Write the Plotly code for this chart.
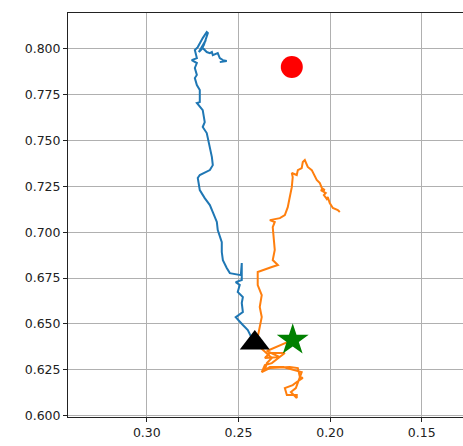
import plotly.graph_objects as go

# Blue trajectory
blue_x = [0.2422, 0.2449, 0.2476, 0.2515, 0.2476, 0.2482, 0.2476, 0.2504, 0.2493, 0.2515,
          0.2482, 0.2482, 0.2487, 0.2547, 0.2564, 0.2585, 0.2591, 0.2591, 0.2613, 0.2618,
          0.2640, 0.2656, 0.2684, 0.2711, 0.2722, 0.2711, 0.2656, 0.2640, 0.2645, 0.2656,
          0.2673, 0.2695, 0.2684, 0.2695, 0.2722, 0.2727, 0.2711, 0.2711, 0.2727, 0.2738,
          0.2727, 0.2738, 0.2727, 0.2755, 0.2727, 0.2738, 0.2722, 0.2711, 0.2695, 0.2673,
          0.2667, 0.2689, 0.2705, 0.2678, 0.2716, 0.2695, 0.2673, 0.2656, 0.2645, 0.2640,
          0.2613, 0.2602, 0.2585, 0.2564, 0.2602]
blue_y = [0.6412, 0.6466, 0.6494, 0.6537, 0.6565, 0.6614, 0.6646, 0.6674, 0.6712, 0.6728,
          0.6739, 0.6832, 0.6766, 0.6777, 0.6805, 0.6848, 0.6892, 0.6946, 0.7012, 0.7056,
          0.7110, 0.7148, 0.7186, 0.7230, 0.7296, 0.7312, 0.7339, 0.7366, 0.7410, 0.7465,
          0.7541, 0.7574, 0.7601, 0.7666, 0.7694, 0.7705, 0.7710, 0.7776, 0.7803, 0.7841,
          0.7858, 0.7896, 0.7923, 0.7939, 0.7950, 0.7994, 0.8010, 0.8032, 0.8059, 0.8092,
          0.8087, 0.8021, 0.7994, 0.8048, 0.7983, 0.8005, 0.7983, 0.7977, 0.7983, 0.7966,
          0.7977, 0.7950, 0.7939, 0.7934, 0.7928]

# Orange trajectory
orange_x = [0.2220, 0.2345, 0.2274, 0.2356, 0.2329, 0.2247, 0.2318, 0.2356, 0.2373, 0.2329,
            0.2220, 0.2176, 0.2165, 0.2149, 0.2182, 0.2204, 0.2247, 0.2236, 0.2182, 0.2182,
            0.2214, 0.2187, 0.2155, 0.2258, 0.2329, 0.2356, 0.2345, 0.2318, 0.2384, 0.2395,
            0.2384, 0.2373, 0.2384, 0.2373, 0.2395, 0.2395, 0.2318, 0.2285, 0.2313, 0.2302,
            0.2313, 0.2302, 0.2329, 0.2274, 0.2247, 0.2231, 0.2220, 0.2209, 0.2204, 0.2209,
            0.2182, 0.2176, 0.2155, 0.2149, 0.2138, 0.2122, 0.2100, 0.2073, 0.2056, 0.2045,
            0.2029, 0.2051, 0.2024, 0.2034, 0.2018, 0.2013, 0.2002, 0.1985, 0.1958, 0.1947]
orange_y = [0.6406, 0.6352, 0.6319, 0.6314, 0.6341, 0.6341, 0.6286, 0.6275, 0.6237, 0.6259,
            0.6265, 0.6259, 0.6210, 0.6205, 0.6183, 0.6166, 0.6150, 0.6112, 0.6112, 0.6095,
            0.6128, 0.6150, 0.6237, 0.6265, 0.6265, 0.6248, 0.6286, 0.6314, 0.6374, 0.6428,
            0.6483, 0.6537, 0.6592, 0.6657, 0.6712, 0.6783, 0.6810, 0.6821, 0.6848, 0.6903,
            0.7028, 0.7056, 0.7066, 0.7077, 0.7094, 0.7137, 0.7192, 0.7246, 0.7301, 0.7323,
            0.7312, 0.7339, 0.7350, 0.7383, 0.7394, 0.7356, 0.7339, 0.7285, 0.7268, 0.7241,
            0.7230, 0.7230, 0.7214, 0.7203, 0.7181, 0.7192, 0.7159, 0.7132, 0.7121, 0.7110]

# Markers
goal_x, goal_y = [0.2209], [0.7901]
start_x, start_y = [0.2411], [0.6396]
star_x, star_y = [0.2204], [0.6412]

x_ticks = [0.30, 0.25, 0.20, 0.15]
y_ticks = [0.600, 0.625, 0.650, 0.675, 0.700, 0.725, 0.750, 0.775, 0.800]

fig = go.Figure()
fig.add_trace(go.Scatter(x=blue_x, y=blue_y, mode="lines",
                         line=dict(color="#1f77b4", width=2)))
fig.add_trace(go.Scatter(x=orange_x, y=orange_y, mode="lines",
                         line=dict(color="#ff7f0e", width=2)))
fig.add_trace(go.Scatter(x=goal_x, y=goal_y, mode="markers",
                         marker=dict(symbol="circle", size=22, color="red", line=dict(width=0))))
fig.add_trace(go.Scatter(x=start_x, y=start_y, mode="markers",
                         marker=dict(symbol="triangle-up", size=26, color="black", line=dict(width=0))))
fig.add_trace(go.Scatter(x=star_x, y=star_y, mode="markers",
                         marker=dict(symbol="star", size=24, color="green", line=dict(width=0))))

axis_common = dict(showgrid=True, gridcolor="#b0b0b0", gridwidth=0.8, zeroline=False,
                   ticks="outside", ticklen=4, tickcolor="#222", tickwidth=1,
                   linecolor="#222", linewidth=1, showline=True,
                   tickfont=dict(family="DejaVu Sans", size=12.5, color="#222"))

fig.update_xaxes(range=[0.343, 0.1275], tickvals=x_ticks, tickformat=".2f",
                 mirror=True, **axis_common)
fig.update_yaxes(range=[0.5992, 0.8196], tickvals=y_ticks, tickformat=".3f",
                 mirror=False, **axis_common)

fig.update_layout(width=463, height=446, showlegend=False,
                  margin=dict(l=68, r=0, t=13, b=29),
                  plot_bgcolor="white", paper_bgcolor="white")

fig.write_html("out.html", config={"displayModeBar": False},
               post_script="document.body.style.margin='0';document.body.style.overflow='hidden';")
